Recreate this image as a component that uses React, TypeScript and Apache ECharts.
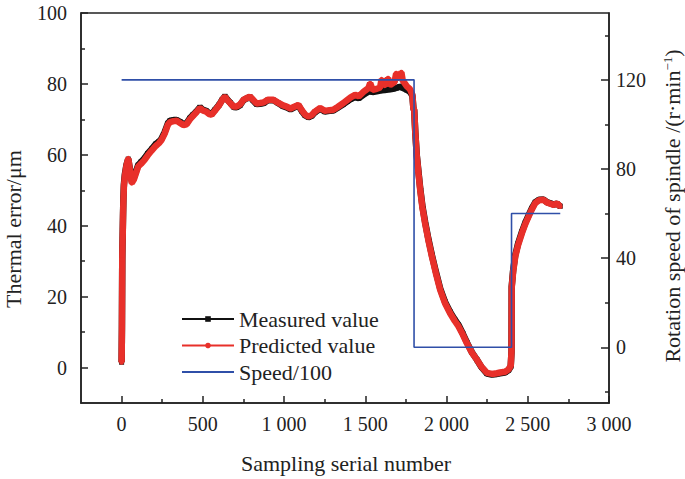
import React, { useEffect, useRef } from "react";
import * as echarts from "echarts";

// Sampling serial numbers (x values)
const sampleIdx = [
  0, 2, 4, 5, 7, 9, 11, 14, 20, 30, 41, 50, 62, 75, 90, 102, 120, 140, 160, 185,
  210, 230, 246, 265, 285, 298, 320, 339, 360, 380, 400, 420, 440, 460, 482, 500,
  520, 540, 554, 575, 600, 620, 636, 650, 670, 690, 708, 729, 750, 770, 790, 810,
  830, 852, 875, 900, 934, 960, 990, 1016, 1040, 1060, 1088, 1110, 1130, 1150,
  1170, 1190, 1222, 1250, 1280, 1303, 1330, 1365, 1390, 1410, 1437, 1460, 1490,
  1519, 1530, 1545, 1570, 1591, 1600, 1620, 1640, 1653, 1680, 1690, 1700, 1714,
  1722, 1730, 1756, 1775, 1790, 1796, 1801, 1808, 1817, 1828, 1838, 1852, 1868,
  1890, 1910, 1935, 1961, 1990, 2022, 2050, 2074, 2100, 2125, 2155, 2187, 2215,
  2249, 2280, 2310, 2330, 2360, 2382, 2395, 2400, 2401, 2410, 2423, 2440, 2464,
  2485, 2505, 2525, 2546, 2570, 2597, 2620, 2640, 2659, 2680, 2700,
];

// Predicted value (µm)
const predicted = [
  1.5, 11.5, 30.5, 33.8, 38.0, 43.0, 47.0, 51.0, 54.0, 57.0, 59.0, 56.0, 52.0,
  53.0, 55.0, 56.7, 57.5, 58.5, 59.8, 61.2, 62.5, 63.3, 64.2, 66.0, 68.5, 69.2,
  69.5, 69.6, 69.0, 68.4, 68.6, 70.0, 71.0, 72.0, 73.2, 72.5, 72.2, 71.5, 71.3,
  72.5, 74.0, 75.5, 76.4, 75.5, 74.5, 73.6, 73.6, 74.2, 75.5, 76.0, 76.4, 75.5,
  74.5, 74.6, 74.8, 75.5, 75.5, 74.8, 74.0, 73.6, 73.0, 73.5, 74.1, 72.5, 71.3,
  70.8, 71.2, 72.2, 73.2, 72.4, 72.6, 72.7, 73.5, 74.6, 75.5, 76.2, 76.9, 76.5,
  77.8, 78.8, 80.2, 78.3, 78.6, 79.0, 81.3, 79.5, 81.6, 79.7, 80.5, 83.0, 81.5,
  82.6, 83.3, 81.0, 79.3, 78.5, 76.9, 73.0, 72.7, 66.0, 59.5, 54.5, 50.1, 45.0,
  40.7, 35.5, 31.3, 26.5, 21.9, 18.2, 15.3, 13.2, 11.6, 9.3, 6.9, 4.3, 2.2, 0.2,
  -1.5, -1.8, -1.6, -1.4, -1.2, -0.5, 0.5, 4.5, 22.5, 27.0, 31.3, 34.5, 37.9, 40.5,
  42.6, 44.6, 46.4, 47.2, 47.3, 46.5, 46.2, 45.9, 46.3, 45.4,
];

// Measured value (µm)
const measured = [
  1.5, 11.2, 30.8, 34.0, 38.5, 43.6, 47.8, 51.6, 54.5, 57.2, 58.8, 56.2, 52.6,
  53.5, 55.5, 57.1, 58.0, 59.0, 60.3, 61.6, 63.0, 63.7, 64.6, 66.4, 68.9, 69.6,
  69.8, 69.8, 69.3, 68.7, 68.9, 70.3, 71.3, 72.2, 73.4, 72.7, 72.4, 71.7, 71.5,
  72.7, 74.1, 75.6, 76.5, 75.6, 74.6, 73.5, 73.4, 74.0, 75.4, 75.9, 76.3, 75.3,
  74.3, 74.4, 74.6, 75.4, 75.4, 74.7, 73.8, 73.4, 72.8, 73.3, 73.9, 72.3, 71.1,
  70.6, 71.0, 72.0, 73.0, 72.2, 72.4, 72.5, 73.3, 74.3, 75.1, 75.7, 76.3, 76.0,
  77.0, 77.8, 78.0, 77.7, 77.9, 78.1, 78.2, 78.3, 78.4, 78.5, 78.7, 78.9, 79.0,
  79.2, 79.1, 78.9, 78.3, 77.8, 76.6, 73.2, 72.5, 66.2, 59.8, 54.9, 50.5, 45.4,
  41.1, 35.9, 31.7, 26.9, 22.3, 18.6, 15.7, 13.6, 12.0, 9.6, 7.1, 4.4, 2.2, 0.1,
  -1.7, -2.0, -1.8, -1.6, -1.4, -0.7, 0.3, 4.5, 22.8, 27.4, 31.7, 34.9, 38.3, 40.9,
  42.9, 44.9, 46.6, 47.3, 47.4, 46.6, 46.3, 46.0, 46.2, 45.5,
];

// Speed/100 step line (right axis, r·min⁻¹)
const speedIdx = [0, 1800, 1800, 2400, 2400, 2700];
const speedVal = [120, 120, 0, 0, 60, 60];

// Tick values
const xTicks = [0, 500, 1000, 1500, 2000, 2500, 3000];
const xMinorTicks = [250, 750, 1250, 1750, 2250, 2750];
const leftTicks = [0, 20, 40, 60, 80, 100];
const leftMinorTicks = [10, 30, 50, 70, 90];
const rightTicks = [0, 40, 80, 120];
const rightMinorTicks = [-20, 20, 60, 100, 140];

const legendNames = ["Measured value", "Predicted value", "Speed/100"];

const FONT = "'Liberation Serif', 'Times New Roman', serif";
const AXIS_COLOR = "#222";

function fmtThousands(v: number): string {
  if (Math.abs(v) >= 1000) {
    const th = Math.floor(v / 1000);
    const rest = String(v % 1000).padStart(3, "0");
    return th + " " + rest;
  }
  return String(v);
}

export default function App() {
  const ref = useRef<HTMLDivElement>(null);

  useEffect(() => {
    if (!ref.current) return;
    const chart = echarts.init(ref.current, undefined, { renderer: "svg" });

    const measuredData = sampleIdx.map((x, i) => [x, measured[i]]);
    const predictedData = sampleIdx.map((x, i) => [x, predicted[i]]);
    const speedData = speedIdx.map((x, i) => [x, speedVal[i]]);

    const labelStyle = { fontFamily: FONT, fontSize: 20, color: AXIS_COLOR };
    const tickLine = { color: AXIS_COLOR, width: 1.5 };

    chart.setOption({
      animation: false,
      backgroundColor: "#fff",
      grid: {
        left: 81,
        right: 76,
        top: 13,
        bottom: 76,
        show: true,
        borderColor: AXIS_COLOR,
        borderWidth: 1.5,
        backgroundColor: "transparent",
      },
      xAxis: [
        {
          type: "value",
          min: -250,
          max: 3000,
          position: "bottom",
          axisLine: { show: true, onZero: false, lineStyle: tickLine },
          axisTick: { show: true, inside: true, length: 7, customValues: xTicks, lineStyle: tickLine },
          axisLabel: {
            ...labelStyle,
            margin: 11,
            customValues: xTicks,
            formatter: (v: number) => fmtThousands(v),
          },
          splitLine: { show: false },
        },
        {
          type: "value",
          min: -250,
          max: 3000,
          position: "bottom",
          axisLine: { show: false, onZero: false },
          axisTick: { show: true, inside: true, length: 4, customValues: xMinorTicks, lineStyle: tickLine },
          axisLabel: { show: false },
          splitLine: { show: false },
        },
      ],
      yAxis: [
        {
          type: "value",
          min: -10,
          max: 100,
          position: "left",
          axisLine: { show: true, onZero: false, lineStyle: tickLine },
          axisTick: { show: true, inside: true, length: 7, customValues: leftTicks, lineStyle: tickLine },
          axisLabel: { ...labelStyle, margin: 14, customValues: leftTicks },
          splitLine: { show: false },
        },
        {
          type: "value",
          min: -25,
          max: 150,
          position: "right",
          axisLine: { show: true, onZero: false, lineStyle: tickLine },
          axisTick: { show: true, inside: true, length: 8, customValues: rightTicks, lineStyle: tickLine },
          axisLabel: { ...labelStyle, margin: 7, customValues: rightTicks },
          splitLine: { show: false },
        },
        {
          type: "value",
          min: -10,
          max: 100,
          position: "left",
          axisLine: { show: false, onZero: false },
          axisTick: { show: true, inside: true, length: 4, customValues: leftMinorTicks, lineStyle: tickLine },
          axisLabel: { show: false },
          splitLine: { show: false },
        },
        {
          type: "value",
          min: -25,
          max: 150,
          position: "right",
          axisLine: { show: false, onZero: false },
          axisTick: { show: true, inside: true, length: 4, customValues: rightMinorTicks, lineStyle: tickLine },
          axisLabel: { show: false },
          splitLine: { show: false },
        },
      ],
      legend: {
        orient: "vertical",
        left: 181,
        top: 308,
        padding: 0,
        itemWidth: 52,
        itemHeight: 7,
        itemGap: 4.5,
        textStyle: { fontFamily: FONT, fontSize: 22, color: AXIS_COLOR },
        lineStyle: { width: 2 },
        data: [
          { name: legendNames[0] },
          { name: legendNames[1] },
          { name: legendNames[2], itemStyle: { opacity: 0 } },
        ],
      },
      graphic: [
        {
          type: "text",
          x: 346,
          y: 463,
          style: {
            text: "Sampling serial number",
            fontFamily: FONT,
            fontSize: 22,
            fill: AXIS_COLOR,
            align: "center",
            verticalAlign: "middle",
          },
        },
        {
          type: "text",
          x: 13,
          y: 229,
          rotation: Math.PI / 2,
          style: {
            text: "Thermal error/\u03bcm",
            fontFamily: FONT,
            fontSize: 22,
            fill: AXIS_COLOR,
            align: "center",
            verticalAlign: "middle",
          },
        },
        {
          type: "text",
          x: 672,
          y: 206,
          rotation: Math.PI / 2,
          style: {
            text: "{a|Rotation speed of spindle /(r\u00b7min}{b|\u22121}{a|)}",
            fontFamily: FONT,
            fontSize: 22,
            fill: AXIS_COLOR,
            align: "center",
            verticalAlign: "middle",
            rich: {
              a: { fontFamily: FONT, fontSize: 22, fill: AXIS_COLOR },
              b: { fontFamily: FONT, fontSize: 13, fill: AXIS_COLOR, verticalAlign: "top" },
            },
          },
        },
      ],
      series: [
        {
          name: legendNames[0],
          type: "line",
          xAxisIndex: 0,
          yAxisIndex: 0,
          data: measuredData,
          color: "#111111",
          symbol: "rect",
          symbolSize: 5,
          showSymbol: true,
          lineStyle: { width: 6.5, color: "#111111" },
          z: 2,
        },
        {
          name: legendNames[1],
          type: "line",
          xAxisIndex: 0,
          yAxisIndex: 0,
          data: predictedData,
          color: "#e8302a",
          symbol: "circle",
          symbolSize: 5,
          showSymbol: true,
          lineStyle: { width: 6.5, color: "#e8302a" },
          z: 3,
        },
        {
          name: legendNames[2],
          type: "line",
          xAxisIndex: 0,
          yAxisIndex: 1,
          data: speedData,
          color: "#2f4fa8",
          symbol: "none",
          lineStyle: { width: 1.6, color: "#2f4fa8" },
          z: 4,
        },
      ],
    });

    return () => {
      chart.dispose();
    };
  }, []);

  return (
    <div
      ref={ref}
      style={{
        position: "fixed",
        left: 0,
        top: 0,
        width: 685,
        height: 479,
        background: "#fff",
      }}
    />
  );
}
